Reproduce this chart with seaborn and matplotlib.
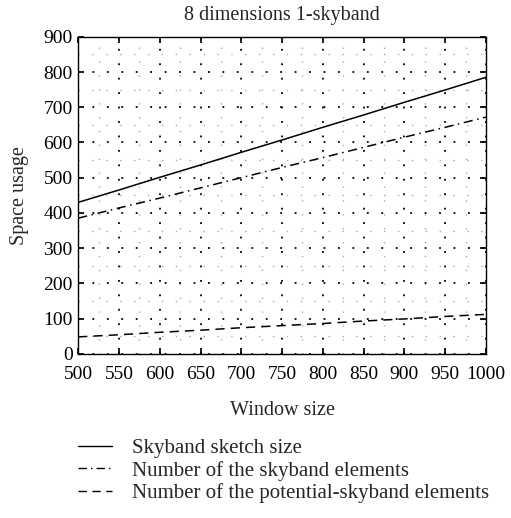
import matplotlib
matplotlib.use("Agg")
import matplotlib.pyplot as plt
import seaborn as sns
import pandas as pd
from matplotlib.ticker import MultipleLocator

window = [500, 550, 600, 650, 700, 750, 800, 850, 900, 950, 1000]
sketch = [430, 465, 501, 536, 572, 607, 643, 678, 714, 749, 785]
skyband = [385, 414, 442, 471, 500, 529, 557, 586, 615, 643, 672]
potential = [48, 54, 61, 67, 74, 80, 86, 93, 99, 106, 112]
labels = ["Skyband sketch size", "Number of the skyband elements",
          "Number of the potential-skyband elements"]

sns.set_theme(style="ticks")
plt.rcParams['font.family'] = ['Liberation Serif']

df = pd.DataFrame({"Window size": window * 3,
                   "value": sketch + skyband + potential,
                   "series": [labels[0]] * 11 + [labels[1]] * 11 + [labels[2]] * 11})

fig = plt.figure(figsize=(5.11, 5.18), dpi=100)
ax = fig.add_axes([0.153, 0.317, 0.798, 0.612])

styles = ["-", (0, (6, 3, 1, 3)), (0, (6, 4))]
for lab, ls in zip(labels, styles):
    sub = df[df.series == lab]
    sns.lineplot(data=sub, x="Window size", y="value", ax=ax, color="black",
                 linewidth=1.1, linestyle=ls, label=lab)

ax.set_xlim(500, 1000)
ax.set_ylim(0, 900)
ax.xaxis.set_major_locator(MultipleLocator(50))
ax.yaxis.set_major_locator(MultipleLocator(100))
ax.xaxis.set_minor_locator(MultipleLocator(25))
ax.yaxis.set_minor_locator(MultipleLocator(50))
ax.grid(True, which="major", color="black", linestyle=(0, (1, 7)), linewidth=1.3)
ax.grid(True, which="minor", color="#aaaaaa", linestyle=(0, (1, 9)), linewidth=1.0)
ax.set_axisbelow(True)
ax.tick_params(direction="in", top=True, right=True, length=4, labelsize=14, colors="black", pad=4)
ax.tick_params(axis="x", pad=9)
ax.tick_params(which="minor", length=0)
for s in ax.spines.values():
    s.set_color("black")
    s.set_linewidth(1.0)

ax.set_xlabel("Window size", fontsize=14.5, labelpad=13)
ax.set_ylabel("Space usage", fontsize=14.5, labelpad=10)
ax.set_title("8 dimensions 1-skyband", fontsize=14.5, pad=12)

leg = ax.legend(loc="upper left", bbox_to_anchor=(0.0, -0.268), frameon=False,
                fontsize=15, handlelength=1.6, handletextpad=1.0,
                labelspacing=0.12, borderaxespad=0, borderpad=0)
for h in leg.get_lines():
    h.set_linewidth(1.0)

fig.savefig("out.png", dpi=100)
